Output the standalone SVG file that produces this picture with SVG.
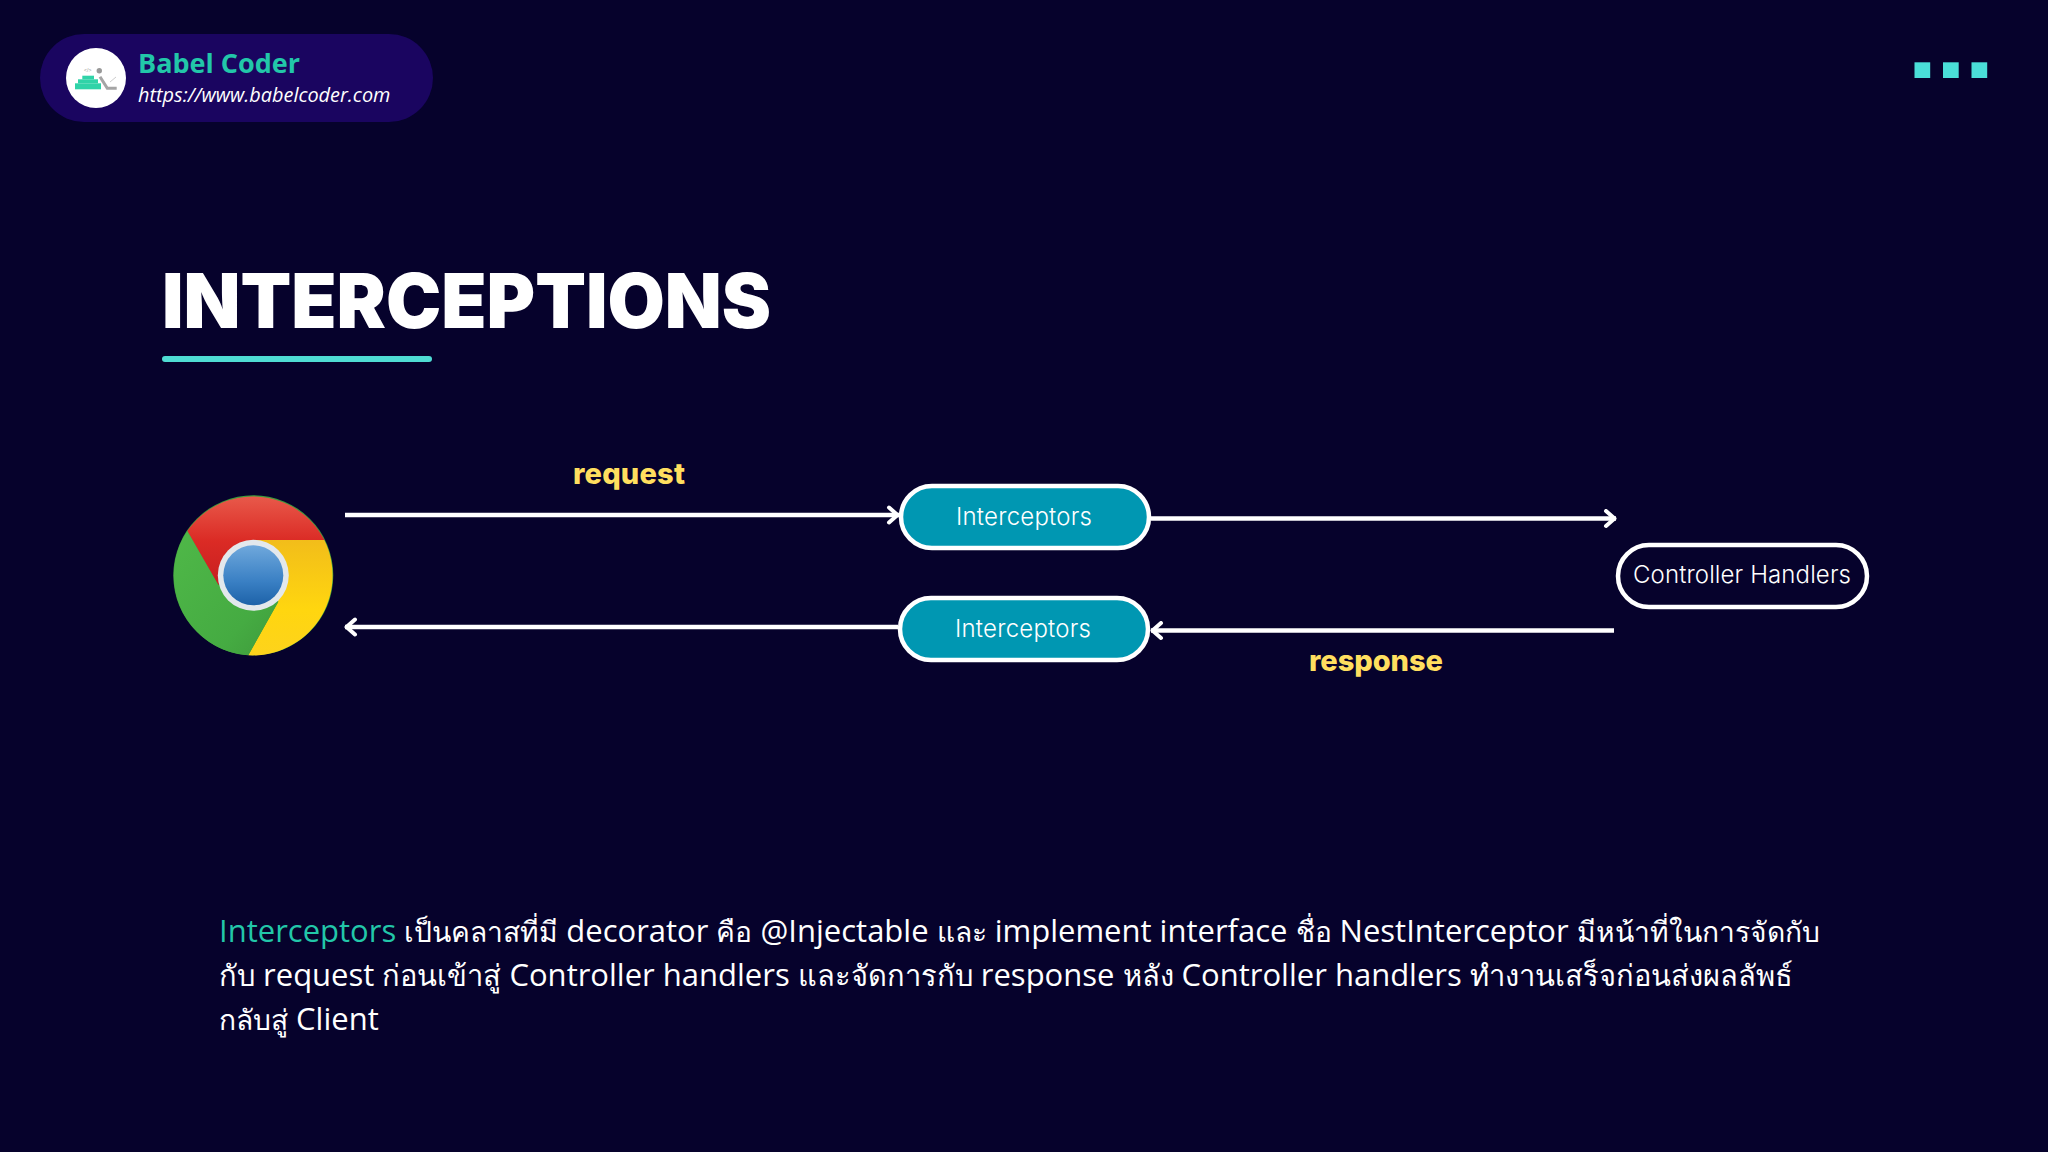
<svg xmlns="http://www.w3.org/2000/svg" width="2048" height="1152" viewBox="0 0 2048 1152">
<defs>
<style>
.pill{stroke:#fff;stroke-width:4.5}
.pilltext{font-family:"Inter","Liberation Sans",sans-serif;font-weight:300;fill:#fff;font-size:24px}
.line{fill:none;stroke:#fff;stroke-width:4.5;stroke-linecap:butt}
.label{font-family:"Inter","Liberation Sans",sans-serif;font-weight:800;font-size:29px;fill:#ffdf5f}
.body{font-family:"Open Sans","Noto Sans",sans-serif;font-size:31px;fill:#fff}
.th{font-size:28.2px}
.th2{font-size:29.100px}
</style>
<marker id="arr" viewBox="0 0 16 20" refX="14" refY="10" markerWidth="16" markerHeight="20" markerUnits="userSpaceOnUse" orient="auto"><path d="M4 2.500L12.500 10L4 17.500" fill="none" stroke="#fff" stroke-width="4" stroke-linecap="round" stroke-linejoin="round"/></marker>
<linearGradient id="red" x1="0" y1="0" x2="0" y2="1"><stop offset="0" stop-color="#e8594a"/><stop offset=".5" stop-color="#db2b25"/><stop offset="1" stop-color="#c81f20"/></linearGradient>
<linearGradient id="yel" x1="0" y1="0" x2="0" y2="1"><stop offset="0" stop-color="#f2bd1a"/><stop offset=".6" stop-color="#ffd60f"/><stop offset="1" stop-color="#fdd31c"/></linearGradient>
<linearGradient id="grn" x1="0" y1="0" x2="1" y2="1"><stop offset="0" stop-color="#4fb848"/><stop offset=".7" stop-color="#45ab42"/><stop offset="1" stop-color="#3f9a3c"/></linearGradient>
<linearGradient id="blu" x1="0" y1="0" x2="0" y2="1"><stop offset="0" stop-color="#6fa8dc"/><stop offset=".6" stop-color="#3a80c4"/><stop offset="1" stop-color="#1d62a8"/></linearGradient>
</defs>
<rect width="2048" height="1152" fill="#06022c"/>
<g id="badge">
<rect x="40" y="34" width="393" height="88" rx="44" fill="#1a0560"/>
<circle cx="96" cy="78" r="30" fill="#fff"/>
<g fill="#2fd3a8"><rect x="75" y="83.300" width="26" height="6"/><rect x="78" y="79.300" width="20" height="4"/><rect x="82.300" y="75.700" width="11.700" height="3.600"/></g>
<circle cx="99.300" cy="70.700" r="2.700" fill="#999"/>
<path d="M100 76.700L107.300 88.300H116.700" fill="none" stroke="#a5a5a5" stroke-width="3"/>
<path d="M110 82L116 77" fill="none" stroke="#ccc" stroke-width="1"/>
<text x="87.700" y="72" font-family="Liberation Sans,sans-serif" font-size="5" fill="#999" text-anchor="middle">&lt;/&gt;</text>
<text x="138" y="72.500" font-family="Open Sans,sans-serif" font-weight="700" font-size="27" fill="#22c7a9">Babel Coder</text>
<text x="138" y="102" font-family="Open Sans,sans-serif" font-style="italic" font-size="19.900" fill="#fff">https://www.babelcoder.com</text>
</g>
<g id="dots" fill="#4adfd8"><rect x="1914.500" y="62.300" width="15.700" height="15.700"/><rect x="1943" y="62.300" width="15.700" height="15.700"/><rect x="1971.500" y="62.300" width="15.700" height="15.700"/></g>
<g id="title">
<text x="162" y="328" font-family="Inter,Liberation Sans,sans-serif" font-weight="900" font-size="76" fill="#fff" textLength="609" lengthAdjust="spacingAndGlyphs">INTERCEPTIONS</text>
<rect x="162" y="356" width="270" height="6" rx="3" fill="#4fdcd4"/>
</g>
<g id="chrome">
<circle cx="253.300" cy="575.300" r="80" fill="#3f9a3c"/>
<path d="M187.300 531A80 80 0 0 1 324.300 540H253.300L218.300 585Z" fill="url(#red)"/>
<path d="M324.300 540A80 80 0 0 1 248.300 655.300L278.300 601.700L253.300 540Z" fill="url(#yel)"/>
<path d="M187.300 531A80 80 0 0 0 248.300 655.300L278.300 601.700L218.300 585Z" fill="url(#grn)"/>
<circle cx="253.300" cy="575.300" r="35.500" fill="#e3e8ec"/>
<circle cx="253.300" cy="575.300" r="30" fill="url(#blu)"/>
</g>
<g id="connectors">
<path class="line" d="M345 515H899" marker-end="url(#arr)"/>
<path class="line" d="M1151 518.500H1616" marker-end="url(#arr)"/>
<path class="line" d="M1614 630.500H1151" marker-end="url(#arr)"/>
<path class="line" d="M898 627H345" marker-end="url(#arr)"/>
</g>
<g id="interceptors-top"><rect class="pill" x="901" y="486" width="248" height="62" rx="31" fill="#0097b2"/><text class="pilltext" x="956" y="525" textLength="136">Interceptors</text></g>
<g id="interceptors-bottom"><rect class="pill" x="900" y="598" width="248" height="62" rx="31" fill="#0097b2"/><text class="pilltext" x="955" y="637" textLength="136">Interceptors</text></g>
<g id="controller"><rect class="pill" x="1618" y="545" width="249" height="62" rx="31" fill="none"/><text class="pilltext" x="1633" y="583" textLength="218">Controller Handlers</text></g>
<text class="label" x="573" y="484" textLength="112">request</text>
<text class="label" x="1309" y="671" textLength="134">response</text>
<g id="description">
<text class="body" x="219" y="941.500"><tspan fill="#22c7a9">Interceptors</tspan> <tspan class="th">เป็นคลาสที่มี</tspan> decorator <tspan class="th">คือ</tspan> @Injectable <tspan class="th">และ</tspan> implement interface <tspan class="th">ชื่อ</tspan> NestInterceptor <tspan class="th">มีหน้าที่ในการจัดกับ</tspan></text>
<text class="body" x="219" y="985.500"><tspan class="th2">กับ</tspan> request <tspan class="th2">ก่อนเข้าสู่</tspan> Controller handlers <tspan class="th2">และจัดการกับ</tspan> response <tspan class="th2">หลัง</tspan> Controller handlers <tspan class="th2">ทำงานเสร็จก่อนส่งผลลัพธ์</tspan></text>
<text class="body" x="219" y="1029.500"><tspan class="th">กลับสู่</tspan> Client</text>
</g>
</svg>
